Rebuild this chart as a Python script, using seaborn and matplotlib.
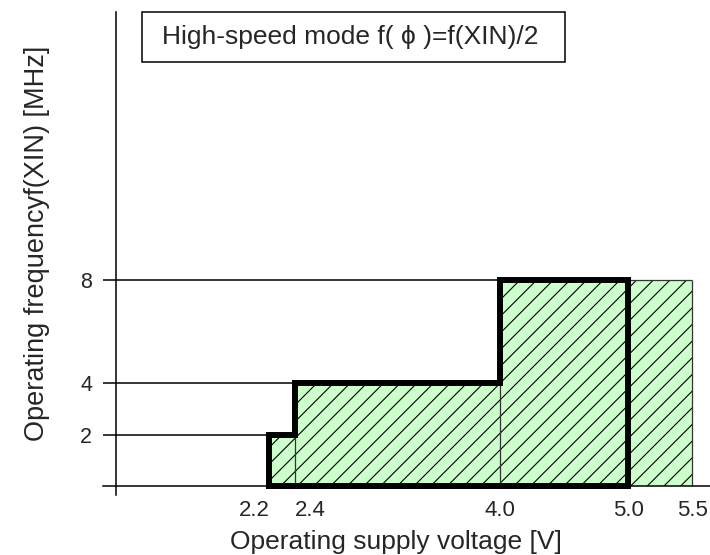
import numpy as np
import matplotlib
matplotlib.use("Agg")
import matplotlib.pyplot as plt
from matplotlib.patches import Rectangle
import seaborn as sns
import pandas as pd

# 데이터 (전압 구간 / 주파수)
volt_edges = [2.2, 2.4, 4.0, 5.5]     # 동작 영역 경계 전압 [V]
freq_levels = [2, 4, 8]               # 각 구간의 최대 주파수 [MHz]
volt_guaranteed = 5.0                 # 굵은 선(보증 영역) 오른쪽 끝
xtick_vals = [2.2, 2.4, 4.0, 5.0, 5.5]
xtick_text = ["2.2", "2.4", "4.0", "5.0", "5.5"]
ytick_vals = [2, 4, 8]
title_text = "High-speed mode f( \u03d5 )=f(XIN)/2"

sns.set_style("white")
plt.rcParams["font.family"] = ["Liberation Sans", "DejaVu Sans"]
plt.rcParams["hatch.linewidth"] = 0.8

W, H = 710, 555
fig = plt.figure(figsize=(7.1, 5.55), dpi=100)
ax = fig.add_axes([103 / W, (H - 496.3) / H, 607 / W, 484 / H])
ax.set_xlim(0.9, 5.64)
ax.set_ylim(-0.4, 18.4)

# 녹색 해칭 영역
fx = volt_edges
fy = freq_levels + [freq_levels[-1]]
ax.fill_between(fx, 0, fy, step="post", facecolor="#ccffcc", edgecolor="none",
                lw=0, zorder=1)
ax.fill_between(fx, 0, fy, step="post", facecolor="none", edgecolor="black",
                hatch="//", lw=0, zorder=1.5)
# 얇은 경계선
ax.vlines(volt_edges[1:], 0, fy[:-1], color="#333333", lw=0.9, zorder=2)
ax.hlines(freq_levels[-1], volt_guaranteed, volt_edges[-1], color="#333333", lw=0.9, zorder=2)

# 왼쪽 수평선
ax.hlines(freq_levels, 0.9, volt_edges[:-1], color="black", lw=1.1, zorder=2)

# 굵은 외곽선
ox = [volt_edges[0]]
oy = [0]
for v, f in zip(volt_edges[:-1], freq_levels):
    ox += [v, v]
    oy += [oy[-1], f]
ox += [volt_guaranteed, volt_guaranteed, volt_edges[0]]
oy += [freq_levels[-1], 0, 0]
outline = pd.DataFrame({"x": ox, "y": oy})
sns.lineplot(data=outline, x="x", y="y", sort=False, estimator=None, color="black",
             lw=4.3, ax=ax, zorder=4, solid_joinstyle="miter", solid_capstyle="projecting")

# 축
for s in ["top", "right"]:
    ax.spines[s].set_visible(False)
ax.spines["bottom"].set_position(("data", 0))
ax.spines["left"].set_position(("data", 1.0))
ax.spines["left"].set_bounds(-0.35, 18.4)
for s in ["bottom", "left"]:
    ax.spines[s].set_linewidth(1.1)
    ax.spines[s].set_color("black")

ax.set_xticks(xtick_vals)
ax.set_xticklabels(xtick_text, fontsize=16)
ax.tick_params(axis="x", direction="out", length=6, width=1.1, color="black", pad=4)
for lab in ax.get_xticklabels():
    if lab.get_text() == "2.2":
        lab.set_ha("right")
    elif lab.get_text() == "2.4":
        lab.set_ha("left")
ax.set_yticks(ytick_vals)
ax.set_yticklabels([str(v) for v in ytick_vals], fontsize=15.5)
ax.tick_params(axis="y", length=0, pad=17)

ax.set_xlabel("Operating supply voltage [V]", fontsize=19)
ax.set_ylabel("Operating frequencyf(XIN) [MHz]", fontsize=19.5)
ax.xaxis.set_label_coords((395.5 - 103) / 607, (496.3 - 530) / 484)
ax.yaxis.set_label_coords((50 - 103) / 607, (496.3 - 243) / 484)

# 제목 상자
fig.patches.append(Rectangle((142 / W, (H - 62) / H), (565 - 142) / W, 50 / H,
                             transform=fig.transFigure, fc="white", ec="black", lw=1.1))
fig.text(162 / W, (H - 37) / H, title_text, fontsize=19, ha="left", va="center")

fig.savefig("out.png", dpi=100)
